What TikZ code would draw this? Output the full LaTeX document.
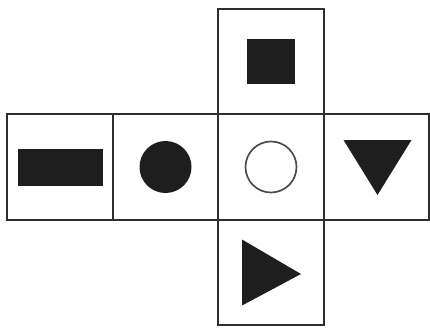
\documentclass[tikz,border=0pt]{standalone}
\usetikzlibrary{positioning, calc}
\definecolor{negroFigura}{HTML}{1E1E1E}
\definecolor{grisBorde}{HTML}{2E2E2E}
\tikzset{
  caraCubo/.style={
    draw=grisBorde, line width=1.9pt, minimum size=105.5pt,
    inner sep=0pt, outer sep=0pt
  },
  figuraRellena/.style={fill=negroFigura, draw=none, inner sep=0pt, outer sep=0pt},
  figuraVacia/.style={draw=grisBorde!85, line width=1.7pt, fill=white, inner sep=0pt},
}
\begin{document}
\begin{tikzpicture}[x=1pt, y=-1pt]
    \useasboundingbox (0,0) rectangle (430,329);

    % caras de la plantilla
    \node[caraCubo] (centro) at (271,167) {};
    \node[caraCubo, above=0pt of centro] (arriba) {};
    \node[caraCubo, below=0pt of centro] (abajo) {};
    \node[caraCubo, left=0pt of centro] (izq) {};
    \node[caraCubo, left=0pt of izq] (izqExt) {};
    \node[caraCubo, right=0pt of centro] (der) {};

    % figuras
    \node[figuraRellena, minimum width=48pt, minimum height=45pt] (cuadrado) at (arriba) {};
    \node[figuraRellena, minimum width=85pt, minimum height=37pt] (barra) at (izqExt) {};
    \node[figuraRellena, circle, minimum size=52pt] (disco) at (izq) {};
    \node[figuraVacia, circle, minimum size=51pt] (aro) at (centro) {};
    \fill[negroFigura] ($(der)+(-33,-27)$) -- ($(der)+(35,-27)$) -- ($(der)+(1,28)$) -- cycle;
    \fill[negroFigura] ($(abajo)+(-29,-33)$) -- ($(abajo)+(-29,33)$) -- ($(abajo)+(30,1.5)$) -- cycle;
\end{tikzpicture}
\end{document}
